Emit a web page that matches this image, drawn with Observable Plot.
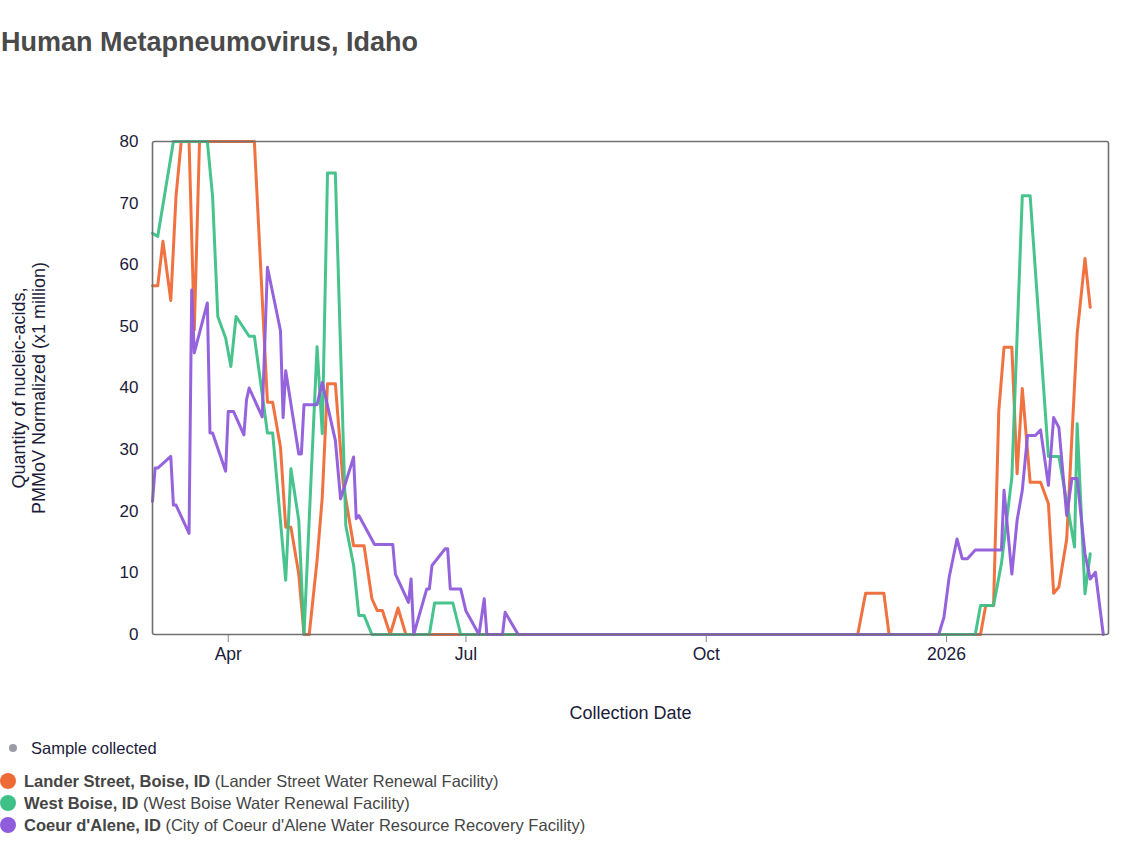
<!DOCTYPE html>
<html><head><meta charset="utf-8">
<script src="https://cdn.jsdelivr.net/npm/d3@7"></script>
<script src="https://cdn.jsdelivr.net/npm/@observablehq/plot@0.6"></script>
<style>
body{margin:0;background:#fff;font-family:"Liberation Sans",Arial,sans-serif;}
#title{position:absolute;left:1px;top:27px;font-size:27px;font-weight:bold;color:#4a4a4a;white-space:nowrap;}
#chart{position:absolute;left:0;top:80px;}
.lg{position:absolute;font-size:16.5px;white-space:nowrap;line-height:20px;}
.dot{position:absolute;border-radius:50%;}
.series{color:#454545;}
.series b{font-weight:bold;}
</style>
</head><body>
<div id="title">Human Metapneumovirus, Idaho</div>
<div id="chart"></div>
<div id="legend"></div>
<script>
// ---- data ----
const siteNames = ["Lander Street, Boise, ID", "West Boise, ID", "Coeur d'Alene, ID"];
const siteFacilities = ["(Lander Street Water Renewal Facility)", "(West Boise Water Renewal Facility)", "(City of Coeur d'Alene Water Resource Recovery Facility)"];
const siteColors = ["#ee6a36", "#3ec087", "#8f5cdb"];

const landerDates = ["2025-03-03","2025-03-05","2025-03-07","2025-03-10","2025-03-12","2025-03-14","2025-03-17","2025-03-19","2025-03-21","2025-04-11","2025-04-16","2025-04-18","2025-04-21","2025-04-23","2025-04-25","2025-04-28","2025-04-30","2025-05-02","2025-05-05","2025-05-07","2025-05-09","2025-05-12","2025-05-15","2025-05-19","2025-05-23","2025-05-26","2025-05-28","2025-05-30","2025-06-02","2025-06-05","2025-06-08","2025-11-28","2025-12-01","2025-12-08","2025-12-10","2026-01-14","2026-01-16","2026-01-19","2026-01-21","2026-01-23","2026-01-26","2026-01-28","2026-01-30","2026-02-02","2026-02-06","2026-02-09","2026-02-11","2026-02-13","2026-02-16","2026-02-20","2026-02-23","2026-02-25"];
const landerValues = [56.6,56.6,63.8,54.2,71.1,80,80,49.4,80,80,37.7,37.7,30.4,17.4,17.4,9.8,0,0,12,22.3,40.7,40.7,24.5,14.4,14.4,5.8,3.9,3.9,0,4.3,0,0,6.7,6.7,0,0,4.7,4.7,36.3,46.6,46.6,26.1,39.9,24.7,24.7,21.2,6.7,7.7,15.5,48.8,61,53.1];

const westDates = ["2025-03-03","2025-03-05","2025-03-11","2025-03-24","2025-03-26","2025-03-28","2025-03-31","2025-04-02","2025-04-04","2025-04-09","2025-04-11","2025-04-16","2025-04-18","2025-04-23","2025-04-25","2025-04-28","2025-04-30","2025-05-05","2025-05-07","2025-05-09","2025-05-12","2025-05-16","2025-05-19","2025-05-21","2025-05-23","2025-05-26","2025-06-17","2025-06-19","2025-06-26","2025-06-29","2026-01-12","2026-01-14","2026-01-19","2026-01-22","2026-01-26","2026-01-30","2026-02-02","2026-02-09","2026-02-13","2026-02-19","2026-02-20","2026-02-23","2026-02-25"];
const westValues = [65.1,64.6,80,80,71.1,51.6,48.1,43.5,51.6,48.4,48.4,32.7,32.7,8.8,26.9,18.5,0,46.7,32.6,74.9,74.9,17.7,11.2,3.1,3.1,0,0,5.1,5.1,0,0,4.7,4.7,11.5,25.5,71.2,71.2,28.9,28.9,14.2,34.2,6.6,13.1];

const coeurDates = ["2025-03-03","2025-03-04","2025-03-05","2025-03-10","2025-03-11","2025-03-12","2025-03-17","2025-03-18","2025-03-19","2025-03-24","2025-03-25","2025-03-26","2025-03-31","2025-04-01","2025-04-03","2025-04-07","2025-04-08","2025-04-09","2025-04-14","2025-04-16","2025-04-21","2025-04-22","2025-04-23","2025-04-28","2025-04-29","2025-04-30","2025-05-05","2025-05-07","2025-05-12","2025-05-14","2025-05-19","2025-05-20","2025-05-21","2025-05-27","2025-05-28","2025-06-03","2025-06-04","2025-06-09","2025-06-10","2025-06-11","2025-06-16","2025-06-17","2025-06-18","2025-06-23","2025-06-24","2025-06-25","2025-06-29","2025-07-01","2025-07-06","2025-07-08","2025-07-09","2025-07-15","2025-07-16","2025-07-21","2025-12-29","2025-12-31","2026-01-02","2026-01-05","2026-01-07","2026-01-09","2026-01-12","2026-01-22","2026-01-23","2026-01-26","2026-01-28","2026-01-30","2026-02-01","2026-02-04","2026-02-06","2026-02-09","2026-02-11","2026-02-13","2026-02-16","2026-02-18","2026-02-20","2026-02-23","2026-02-25","2026-02-27","2026-03-02"];
const coeurValues = [21.6,27,27,28.9,21,21,16.4,55.9,45.7,53.8,32.7,32.7,26.5,36.2,36.2,32.4,38.1,40,35.3,59.6,49.3,35.2,42.8,29.3,29.3,37.3,37.3,40.9,31.5,22,28.8,18.8,19.3,14.6,14.6,14.6,9.8,5.2,9,0,7.4,7.4,11.2,13.9,13.9,7.4,7.4,3.8,0,5.8,0,0,3.6,0,0,2.8,9.3,15.5,12.3,12.3,13.7,13.7,23.4,9.8,18.5,23.4,32.3,32.3,33.2,24.2,35.2,33.6,19.3,25.3,25.3,13.1,9,10.1,0];

const yTicks = [0,10,20,30,40,50,60,70,80];
const xTickDates = ["2025-04-01","2025-07-01","2025-10-01","2026-01-01"];
const xTickLabels = ["Apr","Jul","Oct","2026"];
const xDomain = ["2025-03-03","2026-03-04"];
const yLabel = "Quantity of nucleic-acids,\nPMMoV Normalized (x1 million)";
const xLabel = "Collection Date";

// ---- build ----
const parse = d3.utcParse("%Y-%m-%d");
const rows = (site, dates, values) => dates.map((d, i) => ({site, date: parse(d), value: values[i]}));
const data = [
  ...rows(siteNames[0], landerDates, landerValues),
  ...rows(siteNames[1], westDates, westValues),
  ...rows(siteNames[2], coeurDates, coeurValues)
];
const tickDates = xTickDates.map(parse);

const chart = Plot.plot({
  width: 1140, height: 650,
  marginLeft: 152, marginRight: 32, marginTop: 61, marginBottom: 96,
  style: {fontSize: "17px", fontFamily: "'Liberation Sans', Arial, sans-serif", color: "#1b1b3a", background: "white", overflow: "visible"},
  x: {type: "utc", domain: xDomain.map(parse)},
  y: {domain: [0, 80]},
  color: {domain: siteNames, range: siteColors},
  marks: [
    Plot.axisY({ticks: yTicks, tickSize: 0, tickPadding: 14, label: null, fill: "#1b1b3a", fontSize: 17}),
    Plot.axisX({ticks: tickDates, tickSize: 8, tickPadding: 5, label: null, stroke: "#888", fill: "#1b1b3a", fontSize: 17.5,
      tickFormat: d => xTickLabels[tickDates.findIndex(t => +t === +d)]}),
    Plot.lineY(data, {x: "date", y: "value", z: "site", stroke: "site", strokeWidth: 3, strokeOpacity: 0.95}),
    Plot.frame({stroke: "#707070", strokeWidth: 1.6, rx: 2}),
    Plot.text([xLabel], {frameAnchor: "bottom", dy: 84, fill: "#1b1b3a", fontSize: 18}),
    Plot.text([yLabel], {frameAnchor: "left", dx: -124, rotate: -90, textAnchor: "middle", lineAnchor: "middle", fill: "#1b1b3a", fontSize: 18, lineHeight: 1.11})
  ]
});
document.getElementById("chart").appendChild(chart);

// ---- legend ----
const legend = document.getElementById("legend");
const sd = document.createElement("div");
sd.className = "dot"; sd.style.cssText = "left:9px;top:744px;width:8px;height:8px;background:#9b9ba8;";
legend.appendChild(sd);
const st = document.createElement("div");
st.className = "lg"; st.style.cssText = "left:31px;top:738px;color:#1b1b3a;";
st.textContent = "Sample collected";
legend.appendChild(st);
siteNames.forEach((name, i) => {
  const y = 781 + i * 22;
  const dot = document.createElement("div");
  dot.className = "dot";
  dot.style.cssText = `left:0px;top:${y - 8}px;width:16px;height:16px;background:${siteColors[i]};`;
  legend.appendChild(dot);
  const t = document.createElement("div");
  t.className = "lg series";
  t.style.cssText = `left:24px;top:${y - 10}px;`;
  const b = document.createElement("b"); b.textContent = name;
  t.appendChild(b);
  t.appendChild(document.createTextNode(" " + siteFacilities[i]));
  legend.appendChild(t);
});
</script>
</body></html>
